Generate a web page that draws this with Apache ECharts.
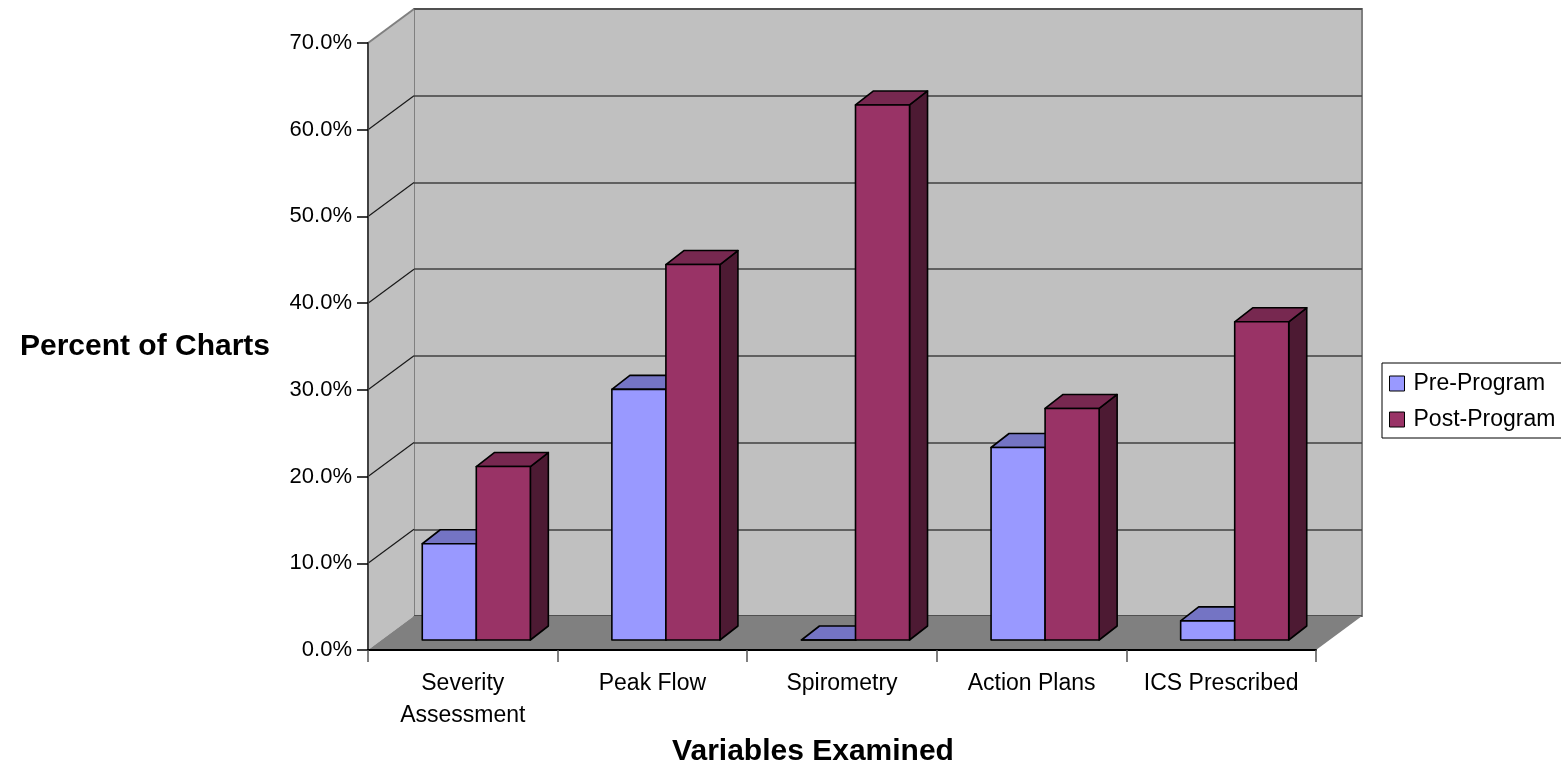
<!DOCTYPE html>
<html>
<head>
<meta charset="utf-8">
<title>Percent of Charts by Variable</title>
<script src="https://cdn.jsdelivr.net/npm/echarts@6/dist/echarts.min.js"></script>
<style>
  html, body { margin: 0; padding: 0; background: #ffffff; }
  #chart { width: 1561px; height: 769px; }
</style>
</head>
<body>
<div id="chart"></div>
<script>
// ---- data ----
const categories = ['Severity\nAssessment', 'Peak Flow', 'Spirometry', 'Action Plans', 'ICS Prescribed'];
const seriesNames = ['Pre-Program', 'Post-Program'];
const prePct = [11.1, 28.9, 0.0, 22.2, 2.2];
const postPct = [20.0, 43.3, 61.7, 26.7, 36.7];
const yMin = 0, yMax = 70, yStep = 10;
const yTicks = [0, 10, 20, 30, 40, 50, 60, 70];

// ---- 3D projection constants (pixels) ----
const WALL_DX = 46, WALL_DY = -34;     // back wall offset from the front plane
const PLANE_DX = 13.5, PLANE_DY = -10; // plane where bar fronts stand
const DEPTH_DX = 18, DEPTH_DY = -14;   // bar depth
const BAR_FRAC = 0.285;                // bar width as a share of a category band

const FONT = '"Liberation Sans", Arial, Helvetica, sans-serif';

const palette = [
  { front: '#9999FF', top: '#7474C4', side: '#4D4D80' },
  { front: '#993366', top: '#772850', side: '#4D1A33' }
];

function toPairs(arr) { return arr.map((v, i) => [i, v]); }

// walls and floor, derived from the front axes
function renderWalls(params, api) {
  const band = api.size([1, 0])[0];
  const left = api.coord([0, 0])[0] - band / 2;
  const right = api.coord([categories.length - 1, 0])[0] + band / 2;
  const y0 = api.coord([0, yMin])[1];
  const yTop = api.coord([0, yMax])[1];
  const children = [];
  // left side wall
  children.push({
    type: 'polygon',
    shape: { points: [[left, y0], [left, yTop], [left + WALL_DX, yTop + WALL_DY], [left + WALL_DX, y0 + WALL_DY]] },
    style: { fill: '#C0C0C0', stroke: null }
  });
  // floor
  children.push({
    type: 'polygon',
    shape: { points: [[left, y0], [left + WALL_DX, y0 + WALL_DY], [right + WALL_DX, y0 + WALL_DY], [right, y0]] },
    style: { fill: '#808080', stroke: null }
  });
  // gridlines running across the side wall
  yTicks.forEach(t => {
    if (t === yMin) return;
    const y = api.coord([0, t])[1];
    children.push({
      type: 'line',
      shape: { x1: left, y1: y, x2: left + WALL_DX, y2: y + WALL_DY },
      style: { stroke: t === yMax ? '#808080' : '#1a1a1a', lineWidth: t === yMax ? 2 : 1.2 }
    });
  });
  return { type: 'group', children };
}

// 3D box for one bar; side 0 sits left of the band centre, side 1 right of it
function makeBarRenderer(side) {
  const c = palette[side];
  return function (params, api) {
    const i = api.value(0);
    const v = api.value(1);
    const base = api.coord([i, 0]);
    const top = api.coord([i, v]);
    const band = api.size([1, 0])[0];
    const w = band * BAR_FRAC;
    const x0 = base[0] + PLANE_DX + (side === 0 ? -w : 0);
    const x1 = x0 + w;
    const yb = base[1] + PLANE_DY;
    const yt = top[1] + PLANE_DY;
    const edge = { stroke: '#000000', lineWidth: 1.6, lineJoin: 'round' };
    return {
      type: 'group',
      children: [
        { type: 'polygon', shape: { points: [[x1, yt], [x1 + DEPTH_DX, yt + DEPTH_DY], [x1 + DEPTH_DX, yb + DEPTH_DY], [x1, yb]] },
          style: Object.assign({ fill: c.side }, edge) },
        { type: 'polygon', shape: { points: [[x0, yt], [x1, yt], [x1 + DEPTH_DX, yt + DEPTH_DY], [x0 + DEPTH_DX, yt + DEPTH_DY]] },
          style: Object.assign({ fill: c.top }, edge) },
        { type: 'polygon', shape: { points: [[x0, yb], [x0, yt], [x1, yt], [x1, yb]] },
          style: Object.assign({ fill: c.front }, edge) }
      ]
    };
  };
}

const chart = echarts.init(document.getElementById('chart'), null, { renderer: 'canvas' });

const option = {
  animation: false,
  backgroundColor: '#ffffff',
  textStyle: { fontFamily: FONT },
  grid: [
    // front plane: carries the visible axes
    { left: 368, top: 43, right: 245, bottom: 119, containLabel: false, show: false },
    // back wall
    { left: 414, top: 9, right: 199, bottom: 153, containLabel: false, show: true,
      backgroundColor: '#C0C0C0', borderColor: '#808080', borderWidth: 2, z: 0 }
  ],
  xAxis: [
    {
      gridIndex: 0, type: 'category', data: categories, boundaryGap: true, z: 5,
      axisLine: { show: true, lineStyle: { color: '#000000', width: 2 } },
      axisTick: { show: true, length: 12, lineStyle: { color: '#555555', width: 1.5 } },
      axisLabel: { fontSize: 23, color: '#000000', margin: 18, lineHeight: 32, fontFamily: FONT, interval: 0 },
      splitLine: { show: false }
    },
    { gridIndex: 1, type: 'value', min: 0, max: 1, show: false }
  ],
  yAxis: [
    {
      gridIndex: 0, type: 'value', min: yMin, max: yMax, interval: yStep, z: 5,
      axisLine: { show: true, lineStyle: { color: '#404040', width: 2 } },
      axisTick: { show: true, length: 11, lineStyle: { color: '#000000', width: 1.5 } },
      axisLabel: { fontSize: 22, color: '#000000', margin: 16, fontFamily: FONT,
        formatter: v => v.toFixed(1) + '%' },
      splitLine: { show: false }
    },
    {
      gridIndex: 1, type: 'value', min: yMin, max: yMax, interval: yStep, z: 1,
      axisLine: { show: false }, axisTick: { show: false }, axisLabel: { show: false },
      splitLine: { show: true, lineStyle: { color: '#404040', width: 1.5 } }
    }
  ],
  legend: {
    orient: 'vertical',
    left: 1382, top: 363,
    padding: [9, 40, 7, 7],
    itemGap: 13,
    itemWidth: 15, itemHeight: 15,
    icon: 'rect',
    backgroundColor: '#ffffff',
    borderColor: '#000000', borderWidth: 1,
    itemStyle: { borderColor: '#000000', borderWidth: 1 },
    textStyle: { fontSize: 23, color: '#000000', fontFamily: FONT, padding: [0, 0, 0, 4] },
    data: seriesNames
  },
  graphic: [
    { type: 'text', x: 145, y: 347, z: 10,
      style: { text: 'Percent of Charts', fontSize: 30, fontWeight: 'bold', fontFamily: FONT,
        fill: '#000000', align: 'center', verticalAlign: 'middle' } },
    { type: 'text', x: 813, y: 752, z: 10,
      style: { text: 'Variables Examined', fontSize: 30, fontWeight: 'bold', fontFamily: FONT,
        fill: '#000000', align: 'center', verticalAlign: 'middle' } }
  ],
  series: [
    {
      name: 'walls', type: 'custom', xAxisIndex: 0, yAxisIndex: 0, z: 2, silent: true,
      renderItem: renderWalls, data: [[0, 0]], encode: { x: 0, y: 1 }
    },
    {
      name: seriesNames[0], type: 'custom', xAxisIndex: 0, yAxisIndex: 0, z: 3,
      itemStyle: { color: palette[0].front },
      renderItem: makeBarRenderer(0), data: toPairs(prePct), encode: { x: 0, y: 1 }
    },
    {
      name: seriesNames[1], type: 'custom', xAxisIndex: 0, yAxisIndex: 0, z: 3,
      itemStyle: { color: palette[1].front },
      renderItem: makeBarRenderer(1), data: toPairs(postPct), encode: { x: 0, y: 1 }
    }
  ]
};

chart.setOption(option);
</script>
</body>
</html>
